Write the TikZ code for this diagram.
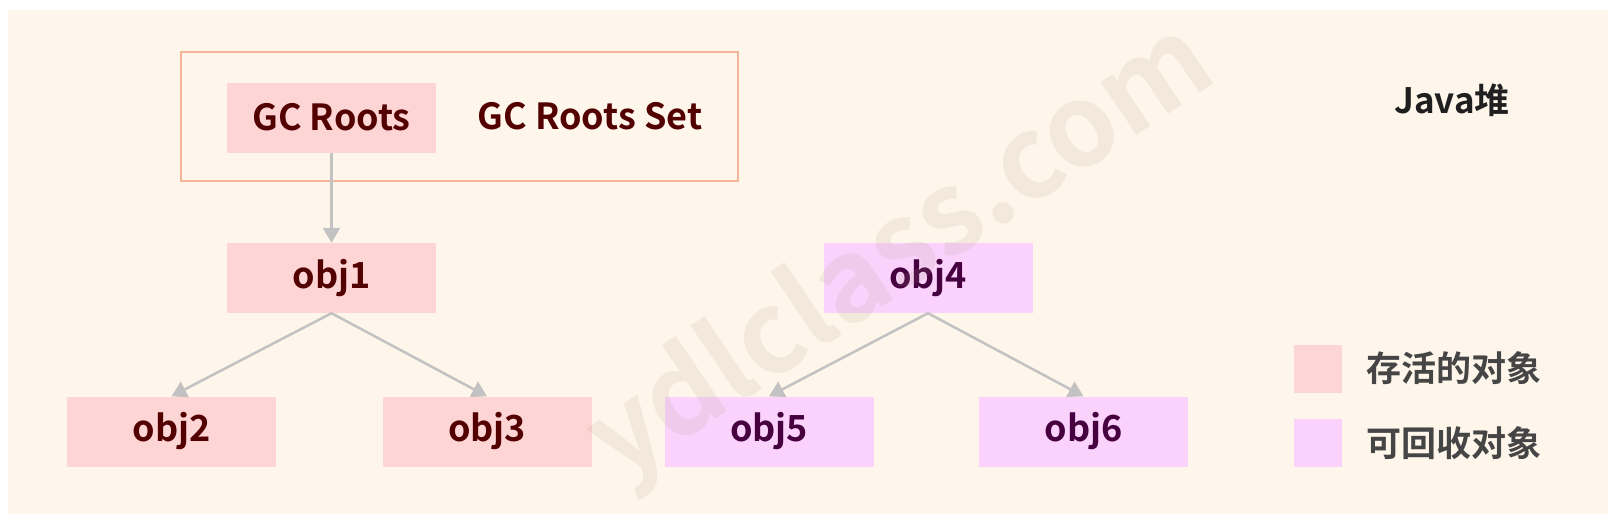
\documentclass[tikz,border=0pt]{standalone}
\usepackage{xcolor}
\usepackage{fontspec}
\setmainfont{Noto Sans CJK SC}[BoldFont={Noto Sans CJK SC Bold}]
\usepackage{tikz}
\usetikzlibrary{arrows.meta}
\definecolor{heapbg}{HTML}{FEF6EA}
\definecolor{alivefill}{HTML}{FED5D5}
\definecolor{deadfill}{HTML}{FAD2FC}
\definecolor{alivetext}{HTML}{530000}
\definecolor{deadtext}{HTML}{46003F}
\definecolor{setline}{HTML}{F5B59A}
\definecolor{refline}{HTML}{C2C2C2}
\definecolor{legendtext}{HTML}{454545}
\definecolor{marktext}{HTML}{A89880}
\begin{document}
\begin{tikzpicture}[x=1pt, y=-1pt,
  objbox/.style={minimum width=209pt, minimum height=70pt, inner sep=0pt,
    font=\fontsize{36}{40}\selectfont\bfseries},
  alive/.style={objbox, fill=alivefill, text=alivetext},
  dead/.style={objbox, fill=deadfill, text=deadtext},
  ref/.style={draw=refline, line width=2.5pt, -{Triangle[length=15pt,width=17pt]}},
  keybox/.style={minimum width=48pt, minimum height=48pt, inner sep=0pt},
  keytext/.style={anchor=west, inner sep=0pt, text=legendtext,
    font=\fontsize{35}{40}\selectfont\bfseries}]
% page and heap background
\useasboundingbox (0,0) rectangle (1616,527);
\fill[white] (0,0) rectangle (1616,527);
\fill[heapbg] (8,10) rectangle (1608,514);
% GC roots set
\node[draw=setline, line width=2.5pt, minimum width=557pt, minimum height=129pt, inner sep=0pt] (rootset) at (459.5,116.5) {};
\node[alive] (gcroots) at (331.5,117.5) {GC Roots};
\node[text=alivetext, inner sep=0pt, font=\fontsize{36}{40}\selectfont\bfseries] (setlabel) at (590,116) {GC Roots Set};
\node[inner sep=0pt, text=black!88, font=\fontsize{35}{40}\selectfont\bfseries] (heaplabel) at (1452,100) {Java堆};
% objects
\node[alive] (obj1) at (331.5,278) {obj1};
\node[alive] (obj2) at (171.5,431.5) {obj2};
\node[alive] (obj3) at (487,431.5) {obj3};
\node[dead] (obj4) at (928,278) {obj4};
\node[dead] (obj5) at (769,431.5) {obj5};
\node[dead] (obj6) at (1083.5,431.5) {obj6};
% references
\draw[ref] (gcroots) -- (obj1);
\draw[ref] (obj1.south) -- (obj2.north);
\draw[ref] (obj1.south) -- (obj3.north);
\draw[ref] (obj4.south) -- (obj5.north);
\draw[ref] (obj4.south) -- (obj6.north);
% legend
\node[keybox, fill=alivefill] (keyalive) at (1318,368.5) {};
\node[keybox, fill=deadfill] (keydead) at (1318,442.5) {};
\node[keytext] (keyalivetext) at (1366,368) {存活的对象};
\node[keytext] (keydeadtext) at (1366,443) {可回收对象};
% watermark
\node[rotate=34, text=marktext, opacity=0.13, font=\fontsize{114}{120}\selectfont\bfseries] (mark) at (902,254) {ydlclass.com};
\end{tikzpicture}
\end{document}
